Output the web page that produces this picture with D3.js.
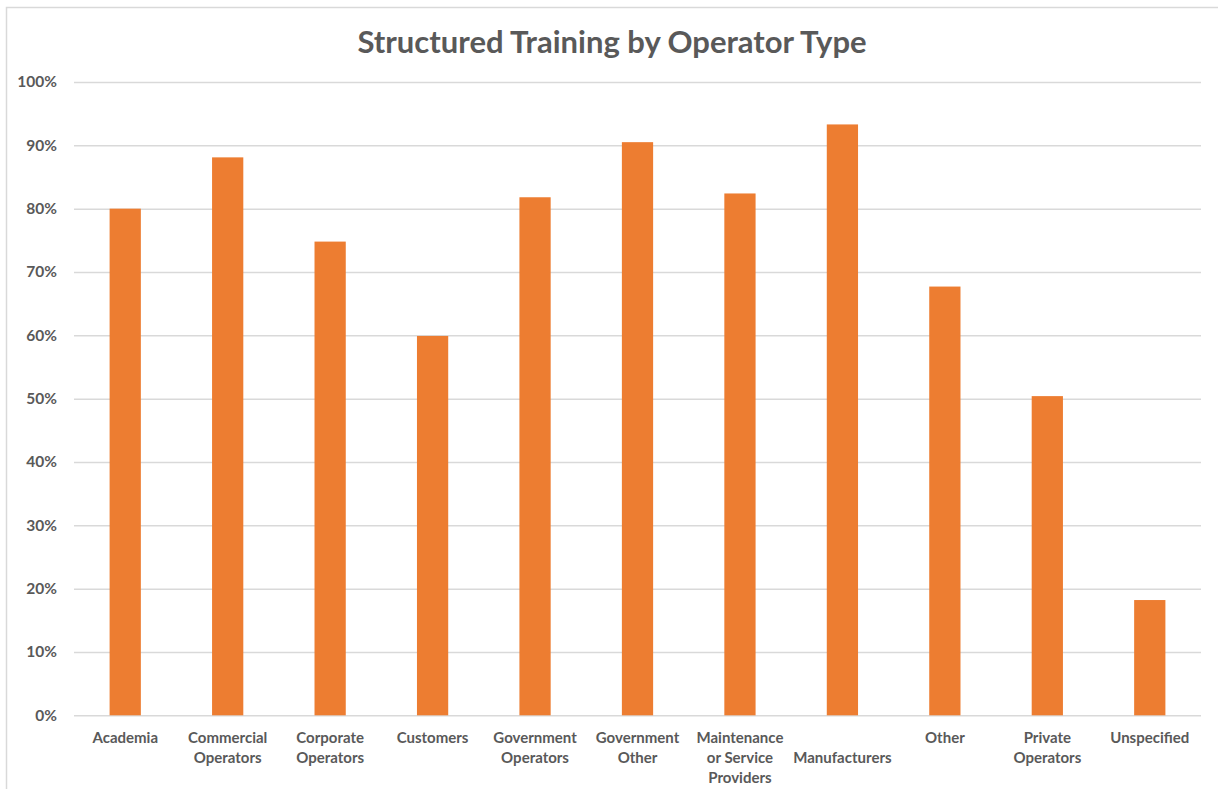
<!DOCTYPE html>
<html>
<head>
<meta charset="utf-8">
<script src="https://cdn.jsdelivr.net/npm/d3@7"></script>
<style>
  html, body { margin: 0; padding: 0; background: #fff; }
  svg { display: block; }
</style>
</head>
<body>
<div id="chart"></div>
<script>
// Chart data
const categories = [
    'Academia', 'Commercial Operators', 'Corporate Operators', 'Customers',
    'Government Operators', 'Government Other', 'Maintenance or Service Providers',
    'Manufacturers', 'Other', 'Private Operators', 'Unspecified'
];
// label lines as wrapped in the original
const labelLines = [
    ['Academia'], ['Commercial', 'Operators'], ['Corporate', 'Operators'], ['Customers'],
    ['Government', 'Operators'], ['Government', 'Other'], ['Maintenance', 'or Service', 'Providers'],
    ['', 'Manufacturers'], ['Other'], ['Private', 'Operators'], ['Unspecified']
];
const values = [0.80, 0.881, 0.748, 0.599, 0.818, 0.905, 0.824, 0.933, 0.677, 0.504, 0.182];
const yTicks = [0, 0.1, 0.2, 0.3, 0.4, 0.5, 0.6, 0.7, 0.8, 0.9, 1.0];
const title = 'Structured Training by Operator Type';

const width = 1218, height = 789;
const margin = { top: 82, right: 17, bottom: 74, left: 74 };
const FONT = 'Lato, "Open Sans", sans-serif';
const TEXT = '#595959';
const GRID = '#d9d9d9';
const BAR = '#ed7d31';

const svg = d3.select('#chart').append('svg')
    .attr('width', width)
    .attr('height', height);

// chart border
svg.append('rect')
    .attr('x', 6.5).attr('y', 7.5)
    .attr('width', width + 20).attr('height', height + 20)
    .attr('fill', '#fff')
    .attr('stroke', GRID)
    .attr('stroke-width', 1.5);

const x = d3.scaleBand()
    .domain(categories)
    .range([margin.left, width - margin.right])
    .paddingInner(0.695)
    .paddingOuter(0.3475);

const y = d3.scaleLinear()
    .domain([0, 1])
    .range([height - margin.bottom + 0.3, margin.top]);

// gridlines
const yAxis = d3.axisLeft(y)
    .tickValues(yTicks)
    .tickFormat(d3.format('.0%'))
    .tickSize(-(width - margin.right - margin.left))
    .tickPadding(17);

const gy = svg.append('g')
    .attr('transform', `translate(${margin.left},0)`)
    .call(yAxis);
gy.select('.domain').remove();
gy.selectAll('line').attr('stroke', GRID).attr('stroke-width', 1.5);
gy.selectAll('text')
    .attr('fill', TEXT)
    .attr('font-family', FONT)
    .attr('font-weight', 'bold')
    .attr('font-size', '15.5px');

// bars
svg.append('g')
    .selectAll('rect')
    .data(values)
    .join('rect')
    .attr('x', (d, i) => x(categories[i]))
    .attr('y', d => y(d))
    .attr('width', x.bandwidth())
    .attr('height', d => y(0) - y(d))
    .attr('fill', BAR);

// x axis labels
const xAxis = d3.axisBottom(x).tickSize(0).tickFormat('');
const gx = svg.append('g')
    .attr('transform', `translate(0,${y(0)})`)
    .call(xAxis);
gx.select('.domain').remove();

gx.selectAll('.tick').each(function(d, i) {
    const t = d3.select(this).append('text')
        .attr('fill', TEXT)
        .attr('font-family', FONT)
        .attr('font-weight', 'bold')
        .attr('font-size', '15px')
        .attr('text-anchor', 'middle');
    labelLines[i].forEach((line, j) => {
        t.append('tspan')
            .attr('x', 0)
            .attr('y', 28 + j * 20)
            .text(line);
    });
});

// title
svg.append('text')
    .attr('x', 612)
    .attr('y', 53)
    .attr('text-anchor', 'middle')
    .attr('fill', TEXT)
    .attr('font-family', FONT)
    .attr('font-weight', 'bold')
    .attr('font-size', '31px')
    .text(title);
</script>
</body>
</html>
